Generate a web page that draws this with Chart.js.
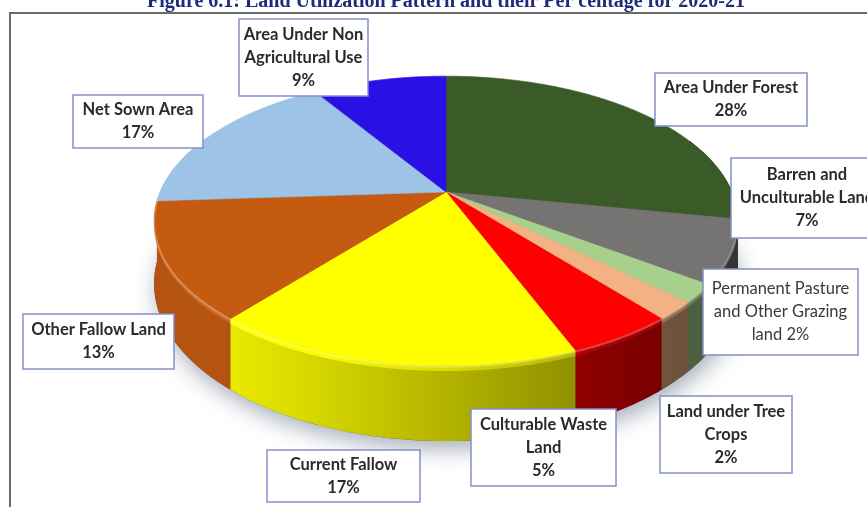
<!DOCTYPE html>
<html>
<head>
<meta charset="utf-8">
<script src="https://cdn.jsdelivr.net/npm/chart.js@4.4.0/dist/chart.umd.min.js"></script>
<style>
  html, body { margin: 0; padding: 0; background: #ffffff; overflow: hidden; }
  #wrap { position: relative; width: 867px; height: 507px; }
  canvas { display: block; }
</style>
</head>
<body>
<div id="wrap"><canvas id="landChart" width="867" height="507"></canvas></div>
<script>
// Land utilization categories and their shares (%) for 2020-21
const categories = [
  'Area Under Forest',
  'Barren and Unculturable Land',
  'Permanent Pasture and Other Grazing land',
  'Land under Tree Crops',
  'Culturable Waste Land',
  'Current Fallow',
  'Other Fallow Land',
  'Net Sown Area',
  'Area Under Non Agricultural Use'
];
const shares = [28, 7, 2, 2, 5, 17, 13, 17, 9];
const sliceColors = ['#3A5A27', '#767373', '#A8D08D', '#F4B183', '#FF0000', '#FFFF00', '#C55A11', '#9DC3E6', '#2B10E6'];
const titleText = 'Figure 6.1: Land Utilization Pattern and their Per centage for 2020-21';

// Callout boxes (same order as categories): box rectangle, wrap width, weight
const calloutLayout = [
  { x: 655, y: 73,  w: 152, h: 53, wrap: 150, bold: true },
  { x: 731, y: 158, w: 170, h: 80, wrap: 162, bold: true, cx: 807 },
  { x: 703, y: 269, w: 155, h: 86, wrap: 148, bold: false, inline: true },
  { x: 660, y: 396, w: 132, h: 77, wrap: 128, bold: true },
  { x: 471, y: 409, w: 145, h: 77, wrap: 138, bold: true },
  { x: 267, y: 450, w: 153, h: 52, wrap: 145, bold: true },
  { x: 23,  y: 314, w: 151, h: 55, wrap: 148, bold: true },
  { x: 73,  y: 95,  w: 130, h: 53, wrap: 126, bold: true },
  { x: 239, y: 19,  w: 129, h: 77, wrap: 127, bold: true }
];

// Tilted-disc projection: perspective strength, horizontal/vertical stretch and wall depth
const PERSP = 0.2, STRETCH_X = 2.043, STRETCH_Y = 0.993, DEPTH = 0.43;

function project(el, ang, d) {
  const u = Math.cos(ang), v = Math.sin(ang);
  const s = 1 / (1 - PERSP * v);
  const R = el.outerRadius;
  return [el.x + STRETCH_X * R * u * s, el.y + STRETCH_Y * R * v * s + d * DEPTH * R * s];
}

function shade(hex, f) {
  const n = parseInt(hex.slice(1), 16);
  let r = (n >> 16) & 255, g = (n >> 8) & 255, b = n & 255;
  if (f <= 1) { r *= f; g *= f; b *= f; }
  else { const t = f - 1; r += (255 - r) * t; g += (255 - g) * t; b += (255 - b) * t; }
  return `rgb(${Math.round(r)},${Math.round(g)},${Math.round(b)})`;
}

// wall lighting: brighter on the left, darker towards the right
const wallLight = (u) => Math.min(0.92, Math.max(0.45, 0.7 - 0.3 * u));

function wrapText(ctx, text, maxW) {
  const words = text.split(' ');
  const lines = [];
  let cur = '';
  for (const w of words) {
    const test = cur ? cur + ' ' + w : w;
    if (cur && ctx.measureText(test).width > maxW) { lines.push(cur); cur = w; }
    else cur = test;
  }
  if (cur) lines.push(cur);
  return lines;
}

const pie3d = {
  id: 'pie3d',
  beforeDatasetsDraw(chart) {
    const ctx = chart.ctx;
    const arcs = chart.getDatasetMeta(0).data;
    const colors = chart.data.datasets[0].backgroundColor;
    const c0 = arcs[0];
    const P = (a, d) => project(c0, a, d);
    const TWO_PI = Math.PI * 2;
    const STEP = Math.PI / 360;
    const xLeft = P(Math.PI, 0)[0], xRight = P(0, 0)[0];

    // soft drop shadow under the disc
    ctx.save();
    ctx.beginPath();
    for (let k = 0; k <= 360; k++) {
      const [x, y] = P(k * TWO_PI / 360, 1);
      k ? ctx.lineTo(x, y) : ctx.moveTo(x, y);
    }
    ctx.closePath();
    ctx.shadowColor = 'rgba(60,75,105,0.45)';
    ctx.shadowBlur = 22;
    ctx.shadowOffsetY = 8;
    ctx.shadowOffsetX = 3;
    ctx.fillStyle = '#5a5a5a';
    ctx.fill();
    ctx.restore();

    // visible part of each slice's outer wall
    const walls = [];
    arcs.forEach((el, i) => {
      const pts = [];
      const span = el.endAngle - el.startAngle;
      const n = Math.max(2, Math.ceil(span / STEP));
      for (let k = 0; k <= n; k++) {
        const a = el.startAngle + span * k / n;
        if (Math.sin(a) >= -0.4) pts.push(a);
      }
      if (pts.length < 2) return;
      const mid = pts[Math.floor(pts.length / 2)];
      walls.push({ pts, v: Math.sin(mid), color: colors[i] });
    });
    walls.sort((p, q) => p.v - q.v);

    const wallPath = (pts, d0, d1) => {
      ctx.beginPath();
      pts.forEach((a, k) => { const [x, y] = P(a, d0); k ? ctx.lineTo(x, y) : ctx.moveTo(x, y); });
      for (let k = pts.length - 1; k >= 0; k--) { const [x, y] = P(pts[k], d1); ctx.lineTo(x, y); }
      ctx.closePath();
    };
    const wallGradient = (color, boost) => {
      const g = ctx.createLinearGradient(xLeft, 0, xRight, 0);
      for (let t = 0; t <= 1.0001; t += 0.1) {
        const u = -1 + 2 * t;
        g.addColorStop(Math.min(1, t), shade(color, Math.min(1.1, wallLight(u) + boost)));
      }
      return g;
    };
    for (const w of walls) {
      wallPath(w.pts, 0, 1);
      ctx.fillStyle = wallGradient(w.color, 0);
      ctx.fill();
      // rounded top edge catching the light
      wallPath(w.pts, 0, 0.07);
      ctx.fillStyle = wallGradient(w.color, 0.16);
      ctx.fill();
    }

    // top faces
    arcs.forEach((el, i) => {
      const span = el.endAngle - el.startAngle;
      const n = Math.max(2, Math.ceil(span / STEP));
      ctx.beginPath();
      ctx.moveTo(el.x, el.y);
      for (let k = 0; k <= n; k++) {
        const [x, y] = P(el.startAngle + span * k / n, 0);
        ctx.lineTo(x, y);
      }
      ctx.closePath();
      ctx.fillStyle = colors[i]; ctx.strokeStyle = colors[i]; ctx.lineWidth = 0.6;
      ctx.fill(); ctx.stroke();
    });

    // highlight along the front rim
    ctx.save();
    ctx.beginPath();
    let started = false;
    for (let k = 0; k <= 360; k++) {
      const a = k * TWO_PI / 360;
      if (Math.sin(a) < 0.05) { started = false; continue; }
      const [x, y] = P(a, 0.012);
      if (!started) { ctx.moveTo(x, y); started = true; } else ctx.lineTo(x, y);
    }
    ctx.strokeStyle = 'rgba(255,255,255,0.28)';
    ctx.lineWidth = 2;
    ctx.stroke();
    ctx.restore();
    return false;
  },
  afterDraw(chart) {
    const ctx = chart.ctx;
    ctx.save();
    // frame
    ctx.strokeStyle = '#6b6b6b';
    ctx.lineWidth = 2;
    ctx.beginPath();
    ctx.moveTo(10, 507); ctx.lineTo(10, 13); ctx.lineTo(867, 13);
    ctx.stroke();

    // title
    ctx.fillStyle = '#1E2A7A';
    ctx.font = 'bold 20px "Liberation Serif"';
    ctx.textAlign = 'center';
    ctx.textBaseline = 'alphabetic';
    ctx.fillText(titleText, 446, 7);

    // callouts
    calloutLayout.forEach((b, i) => {
      ctx.font = (b.bold ? 'bold ' : '') + '16.5px Lato';
      const pct = shares[i] + '%';
      const lines = b.inline ? wrapText(ctx, categories[i] + ' ' + pct, b.wrap)
                             : wrapText(ctx, categories[i], b.wrap).concat([pct]);
      ctx.fillStyle = '#ffffff';
      ctx.fillRect(b.x, b.y, b.w, b.h);
      ctx.strokeStyle = '#8290C8';
      ctx.lineWidth = 1.5;
      ctx.strokeRect(b.x, b.y, b.w, b.h);
      ctx.fillStyle = b.bold ? '#2b2b2b' : '#3a3a3a';
      ctx.textAlign = 'center';
      ctx.textBaseline = 'middle';
      const lh = 23;
      const cx = b.cx !== undefined ? b.cx : b.x + b.w / 2;
      const top = b.y + b.h / 2 - (lines.length - 1) * lh / 2;
      lines.forEach((ln, k) => ctx.fillText(ln, cx, top + k * lh));
    });
    ctx.restore();
  }
};

new Chart(document.getElementById('landChart'), {
  type: 'pie',
  data: {
    labels: categories,
    datasets: [{ data: shares, backgroundColor: sliceColors, borderWidth: 0 }]
  },
  options: {
    responsive: false,
    animation: false,
    layout: { padding: { left: 306, right: 281, top: 52, bottom: 175 } },
    plugins: { legend: { display: false }, tooltip: { enabled: false } }
  },
  plugins: [pie3d]
});
</script>
</body>
</html>
